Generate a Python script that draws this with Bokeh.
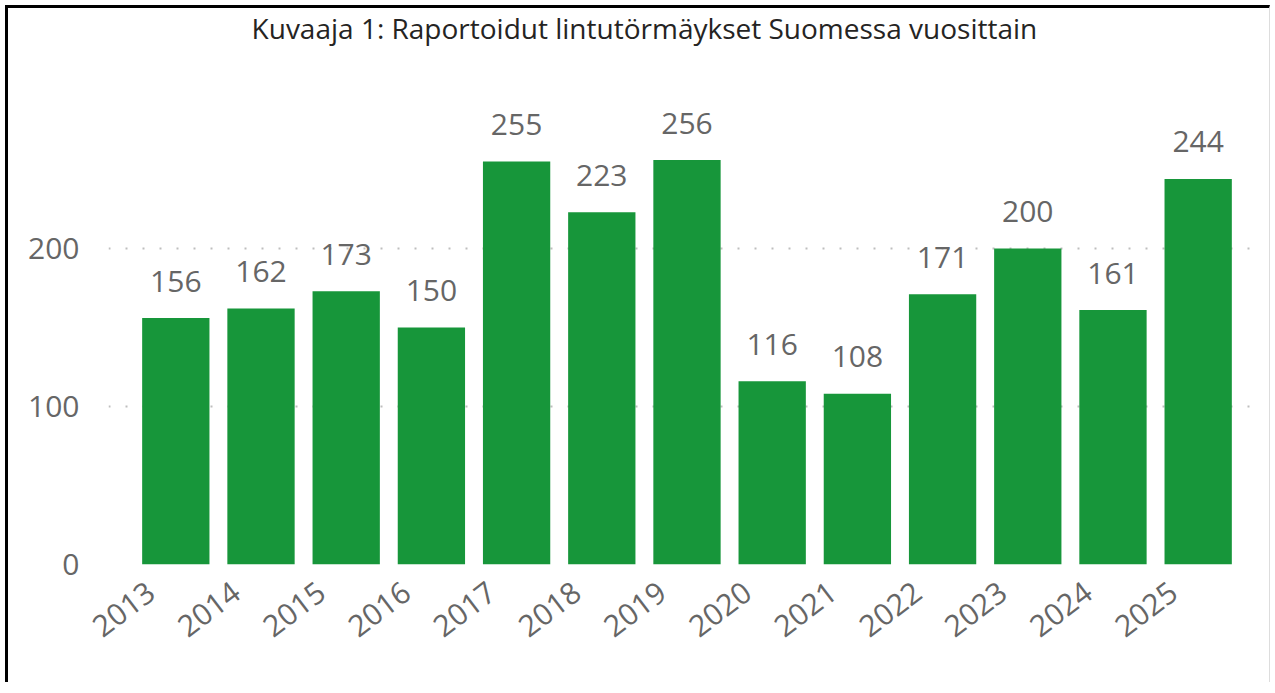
from bokeh.plotting import figure
from bokeh.models import ColumnDataSource, FixedTicker, Range1d, CustomJSTickFormatter
from bokeh.embed import file_html
from bokeh.resources import INLINE
from bokeh.core.properties import value

title_text = "Kuvaaja 1: Raportoidut lintutörmäykset Suomessa vuosittain"
years = ["2013", "2014", "2015", "2016", "2017", "2018", "2019",
         "2020", "2021", "2022", "2023", "2024", "2025"]
counts = [156, 162, 173, 150, 255, 223, 256, 116, 108, 171, 200, 161, 244]
y_ticks = [0, 100, 200]

FONT = "Open Sans"
GRAY = "#666666"
GREEN = "#17963A"

xs = list(range(len(years)))
src = ColumnDataSource(dict(x=xs, top=counts, label=[str(c) for c in counts]))
title_src = ColumnDataSource(dict(x=[5.5], y=[339.5], text=[title_text]))

p = figure(width=1265, height=677, output_backend="svg", toolbar_location=None,
           title=None,
           x_range=Range1d(-0.79, 12.755), y_range=Range1d(0, 351.9),
           min_border_left=100, min_border_right=11, min_border_top=0,
           min_border_bottom=121)
p.styles = {"margin-left": "5px", "margin-top": "5px",
            "border-left": "3px solid #000000", "border-top": "3px solid #000000",
            "border-right": "1px solid #DDDDDD"}

p.vbar(x="x", top="top", width=0.79, source=src, fill_color=GREEN, line_color=None)
p.text(x="x", y="top", text="label", source=src, text_align="center",
       text_baseline="alphabetic", y_offset=-37, text_font=value(FONT),
       text_font_size="30px", text_color=GRAY)
p.text(x="x", y="y", text="text", source=title_src, text_align="center",
       text_baseline="alphabetic", text_font=value(FONT),
       text_font_size="28px", text_color="#252423")

p.outline_line_color = None
p.xgrid.grid_line_color = None
p.ygrid.ticker = FixedTicker(ticks=y_ticks)
p.ygrid.grid_line_color = "#BEBEBE"
p.ygrid.grid_line_width = 2
p.ygrid.grid_line_dash = "2 15"

p.yaxis.ticker = FixedTicker(ticks=y_ticks)
p.xaxis.ticker = FixedTicker(ticks=[x - 0.29 for x in xs])
p.xaxis.formatter = CustomJSTickFormatter(args=dict(years=years),
                                          code="return years[Math.round(tick)];")
p.xaxis.major_label_orientation = 0.65
for ax in (p.xaxis, p.yaxis):
    ax.axis_line_color = None
    ax.major_tick_line_color = None
    ax.minor_tick_line_color = None
    ax.major_tick_out = 0
    ax.major_label_text_font = FONT
    ax.major_label_text_font_size = "30px"
    ax.major_label_text_color = GRAY
p.yaxis.major_label_standoff = 29
p.xaxis.major_label_standoff = 24

open("out.html", "w").write(file_html(p, INLINE))
